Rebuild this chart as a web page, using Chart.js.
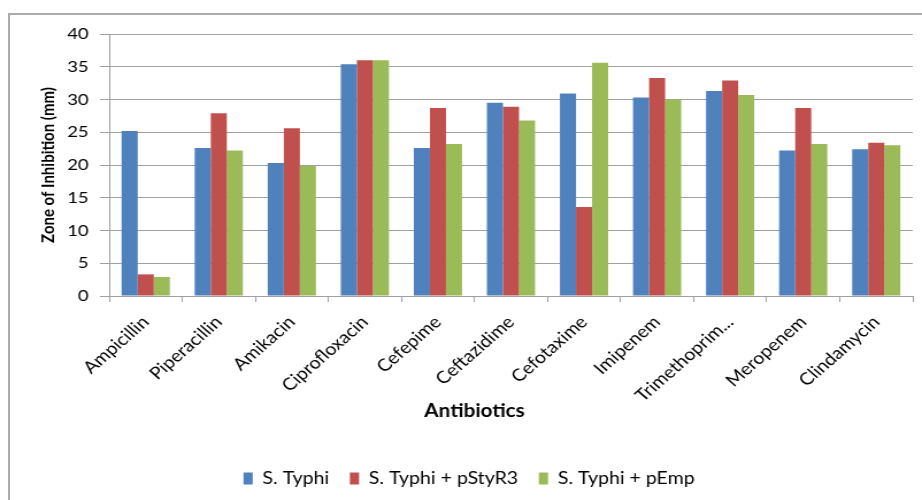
<!DOCTYPE html>
<html>
<head>
<meta charset="utf-8">
<script src="https://cdn.jsdelivr.net/npm/chart.js@4"></script>
<style>
  body { margin: 0; background: #fff; }
  #wrap { position: relative; width: 922px; height: 500px; overflow: hidden; }
  #frame { position: absolute; left: 8px; top: 13px; width: 940px; height: 520px;
           border-top: 2px solid #ababab; border-left: 2px solid #ababab; }
  /* the original picture is stretched sideways a little, so the canvas is too */
  #stretch { position: absolute; left: 0; top: 0; width: 802px; height: 500px;
             transform: scaleX(1.1496); transform-origin: 0 0; }
</style>
</head>
<body>
<div id="wrap">
  <div id="frame"></div>
  <div id="stretch"><canvas id="inhibitionChart" width="802" height="500"></canvas></div>
</div>
<script>
const antibiotics = ['Ampicillin', 'Piperacillin', 'Amikacin', 'Ciprofloxacin', 'Cefepime',
  'Ceftazidime', 'Cefotaxime', 'Imipenem', 'Trimethoprim...', 'Meropenem', 'Clindamycin'];
const sTyphi = [25.2, 22.6, 20.3, 35.4, 22.6, 29.5, 30.9, 30.3, 31.3, 22.2, 22.4];
const sTyphiStyR3 = [3.3, 27.9, 25.6, 36.0, 28.7, 28.9, 13.6, 33.3, 32.9, 28.7, 23.4];
const sTyphiEmp = [2.9, 22.2, 19.9, 36.0, 23.2, 26.8, 35.6, 30.0, 30.7, 23.2, 23.0];
const yTicks = [0, 5, 10, 15, 20, 25, 30, 35, 40];
const xTitle = 'Antibiotics';

Chart.defaults.font.family = 'Lato, "Liberation Sans", sans-serif';
Chart.defaults.color = '#000';

// the x title sits left of centre in the original, so it is drawn here
const xTitlePlugin = {
    id: 'xTitle',
    afterDraw(chart) {
        const x = chart.scales.x;
        const c = chart.ctx;
        c.save();
        c.font = 'bold 18px Lato, "Liberation Sans", sans-serif';
        c.fillStyle = '#000';
        c.textAlign = 'center';
        c.textBaseline = 'middle';
        c.fillText(xTitle, x.getPixelForValue(4.5), x.bottom - 41);
        c.restore();
    }
};

const ctx = document.getElementById('inhibitionChart').getContext('2d');
const inhibitionChart = new Chart(ctx, {
    type: 'bar',
    data: {
        labels: antibiotics,
        datasets: [
            { label: 'S. Typhi', data: sTyphi, backgroundColor: '#4f81bd' },
            { label: 'S. Typhi + pStyR3', data: sTyphiStyR3, backgroundColor: '#c0504d' },
            { label: 'S. Typhi + pEmp', data: sTyphiEmp, backgroundColor: '#9bbb59' }
        ]
    },
    options: {
        responsive: false,
        animation: false,
        layout: { padding: { left: 22, right: 8, top: 34, bottom: 3 } },
        datasets: { bar: { categoryPercentage: 0.66, barPercentage: 1 } },
        plugins: {
            legend: {
                position: 'bottom',
                labels: { boxWidth: 8, boxHeight: 12, padding: 18, font: { size: 17 } }
            },
            tooltip: { enabled: false }
        },
        scales: {
            x: {
                afterFit: (scale) => { scale.height = 156; },
                grid: { drawOnChartArea: false, tickLength: 6, color: '#a0a0a0', offset: true },
                border: { color: '#a0a0a0' },
                ticks: { maxRotation: 45, minRotation: 45, font: { size: 17 }, padding: 10 }
            },
            y: {
                min: 0, max: 40,
                afterFit: (scale) => { scale.width = 73; },
                afterBuildTicks: (scale) => { scale.ticks = yTicks.map(v => ({ value: v })); },
                grid: { color: '#a0a0a0', tickLength: 8 },
                border: { color: '#a0a0a0' },
                ticks: { font: { size: 16 }, padding: 10 },
                title: { display: true, text: 'Zone of Inhibition (mm)', font: { size: 15, weight: 'bold' },
                         padding: { top: 11, bottom: 4 } }
            }
        }
    },
    plugins: [xTitlePlugin]
});
</script>
</body>
</html>
